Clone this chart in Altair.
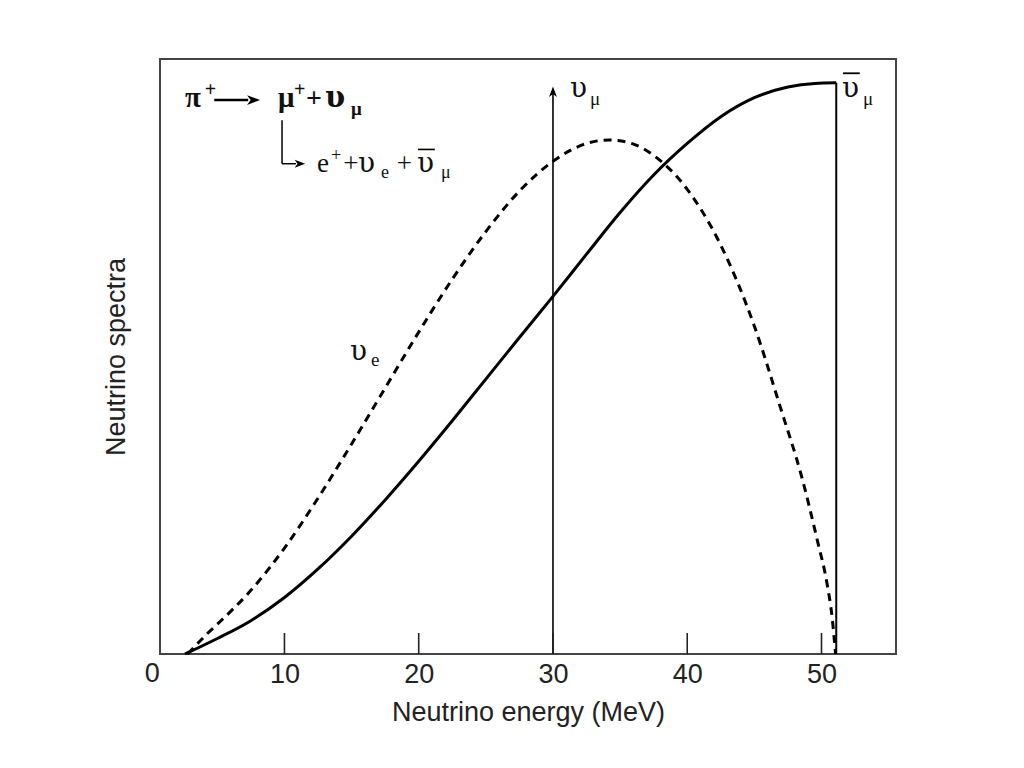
import altair as alt
import pandas as pd

# ---- data ----
energy_nue = [2.8, 4.2, 5.0, 7.5, 10.0, 12.5, 15.0, 17.5, 20.0, 22.5, 25.0, 27.5, 30.0,
              32.5, 34.2, 36.0, 37.5, 40.0, 42.5, 45.0, 47.0, 48.5, 49.7, 50.4, 50.8, 51.05]
spec_nue = [0.0, 0.033, 0.05, 0.107, 0.178, 0.262, 0.353, 0.447, 0.541, 0.630, 0.710, 0.778, 0.828,
            0.858, 0.864, 0.857, 0.838, 0.781, 0.687, 0.551, 0.41, 0.30, 0.19, 0.12, 0.06, 0.0]

energy_numubar = [2.6, 5.0, 7.5, 10.0, 12.5, 15.0, 17.5, 20.0, 22.5, 25.0, 27.5, 30.0, 32.5,
                  35.0, 37.5, 40.0, 42.5, 45.0, 47.5, 49.5, 51.1]
spec_numubar = [0.0, 0.026, 0.056, 0.095, 0.143, 0.198, 0.259, 0.324, 0.392, 0.462, 0.532, 0.601, 0.672,
                0.742, 0.805, 0.858, 0.903, 0.935, 0.953, 0.959, 0.96]

tick_values = [10, 20, 30, 40, 50]
zero_label = ["0"]

numu_energy = 30.0       # monoenergetic nu_mu line
numu_top = 0.945
endpoint_energy = 51.1   # end of the nu_mu-bar spectrum
endpoint_top = 0.96

# annotation glyphs: text, x, y, size, bold, font (0 = Liberation Serif, 1 = DejaVu Serif)
ann_text = ["π", "+", "μ", "+", "+", "υ", "μ",
            "e", "+", "+", "υ", "e", "+", "υ", "μ",
            "υ", "e",
            "υ", "μ",
            "υ", "μ"]
ann_x = [2.59, 4.07, 9.51, 10.71, 11.6, 13.02, 14.96,
         12.42, 13.46, 14.37, 15.47, 17.19, 18.36, 19.87, 21.66,
         14.88, 16.44,
         31.27, 32.75,
         51.52, 53.09]
ann_y = [0.919, 0.938, 0.919, 0.938, 0.919, 0.919, 0.906,
         0.810, 0.829, 0.810, 0.810, 0.800, 0.810, 0.810, 0.800,
         0.494, 0.484,
         0.936, 0.922,
         0.936, 0.922]
ann_size = [29, 20, 29, 20, 28, 29, 19,
            27, 18, 27, 28, 18, 27, 28, 18,
            28, 19,
            28, 19,
            28, 19]
ann_bold = [1, 1, 1, 1, 1, 1, 1,
            0, 0, 0, 0, 0, 0, 0, 0,
            0, 0,
            0, 0,
            0, 0]
ann_font = [0, 0, 0, 0, 0, 1, 0,
            0, 0, 0, 1, 0, 0, 1, 0,
            1, 0,
            1, 0,
            1, 0]

# helper lines of the annotations (arrows, overbars)
rule_x = [4.77, 9.82, 9.82, 19.95, 51.6]
rule_x2 = [7.3, 9.82, 10.86, 21.2, 52.85]
rule_y = [0.931, 0.897, 0.824, 0.848, 0.976]
rule_y2 = [0.931, 0.824, 0.824, 0.848, 0.976]
rule_w = [2.6, 1.5, 1.5, 1.6, 1.8]

head_x = [7.7, 11.15, numu_energy]
head_y = [0.931, 0.824, numu_top]
head_angle = [90, 90, 0]
head_size = [170, 110, 110]

# ---- tables ----
nue = pd.DataFrame({"x": energy_nue, "y": spec_nue, "i": range(len(energy_nue))})
numubar = pd.DataFrame({"x": energy_numubar, "y": spec_numubar, "i": range(len(energy_numubar))})
vlines = pd.DataFrame({"x": [numu_energy, endpoint_energy], "y": [0, 0],
                       "y2": [numu_top, endpoint_top], "w": [1.6, 2.0]})
ticks = pd.DataFrame({"x": tick_values})
zero = pd.DataFrame({"x": [0.0], "t": zero_label})
ann = pd.DataFrame({"x": ann_x, "y": ann_y, "t": ann_text, "s": ann_size,
                    "b": ann_bold, "f": ann_font})
rules = pd.DataFrame({"x": rule_x, "x2": rule_x2, "y": rule_y, "y2": rule_y2, "w": rule_w})
heads = pd.DataFrame({"x": head_x, "y": head_y, "a": head_angle, "s": head_size})

xs = alt.Scale(domain=[0.73, 55.55], nice=False, zero=False)
ys = alt.Scale(domain=[0, 1], nice=False, zero=False)

x_axis = alt.Axis(values=tick_values, ticks=False, domain=False, grid=False,
                  labelFont="Liberation Sans", labelFontSize=27, labelColor="#222",
                  labelPadding=7, labelFlush=False, labelOverlap=False,
                  title="Neutrino energy (MeV)", titleFont="Liberation Sans",
                  titleFontSize=27, titleFontWeight="normal", titleColor="#222",
                  titlePadding=12)
y_axis = alt.Axis(labels=False, ticks=False, domain=False, grid=False,
                  title="Neutrino spectra", titleFont="Liberation Sans",
                  titleFontSize=27, titleFontWeight="normal", titleColor="#222",
                  titlePadding=30)

X = alt.X("x:Q", scale=xs, axis=x_axis)
Y = alt.Y("y:Q", scale=ys, axis=y_axis)

dashed = alt.Chart(nue).mark_line(color="black", strokeWidth=3, strokeDash=[8, 6],
                                  interpolate="monotone").encode(x=X, y=Y, order="i:Q")
solid = alt.Chart(numubar).mark_line(color="black", strokeWidth=3,
                                     interpolate="monotone").encode(x=X, y=Y, order="i:Q")
vl = alt.Chart(vlines).mark_rule(color="black").encode(
    x=X, y=Y, y2="y2:Q", strokeWidth=alt.StrokeWidth("w:Q", scale=None, legend=None))
tk = alt.Chart(ticks).mark_rule(color="#222", strokeWidth=1.6).encode(
    x=X, y=alt.value(595), y2=alt.value(574))
zl = alt.Chart(zero).mark_text(font="Liberation Sans", fontSize=27, color="#222",
                               baseline="top", align="center", dx=2).encode(
    x=X, y=alt.value(602), text="t:N")
rl = alt.Chart(rules).mark_rule(color="black").encode(
    x=X, x2="x2:Q", y=Y, y2="y2:Q",
    strokeWidth=alt.StrokeWidth("w:Q", scale=None, legend=None))
hd = alt.Chart(heads).mark_point(
    shape="M0,-1L0.75,1L0,0.45L-0.75,1Z", filled=True, color="black", opacity=1
).encode(x=X, y=Y, angle=alt.Angle("a:Q", scale=None),
         size=alt.Size("s:Q", scale=None, legend=None))


def glyphs(bold, font_id, family):
    return alt.Chart(ann).transform_filter(
        f"datum.b == {bold} && datum.f == {font_id}"
    ).mark_text(
        font=family, fontWeight="bold" if bold else "normal",
        align="left", baseline="alphabetic", color="#111"
    ).encode(x=X, y=Y, text="t:N", size=alt.Size("s:Q", scale=None, legend=None))


layers = [dashed, solid, vl, tk, zl, rl, hd,
          glyphs(1, 0, "Liberation Serif"), glyphs(1, 1, "DejaVu Serif"),
          glyphs(0, 0, "Liberation Serif"), glyphs(0, 1, "DejaVu Serif")]

chart = alt.layer(*layers).properties(
    width=736, height=595,
    autosize=alt.AutoSizeParams(type="none"),
    padding={"left": 152, "top": 51, "right": 110, "bottom": 96},
    background="white",
).configure_view(stroke="#444", strokeWidth=2)

chart.save("out.html", embed_options={"renderer": "svg", "actions": False})
